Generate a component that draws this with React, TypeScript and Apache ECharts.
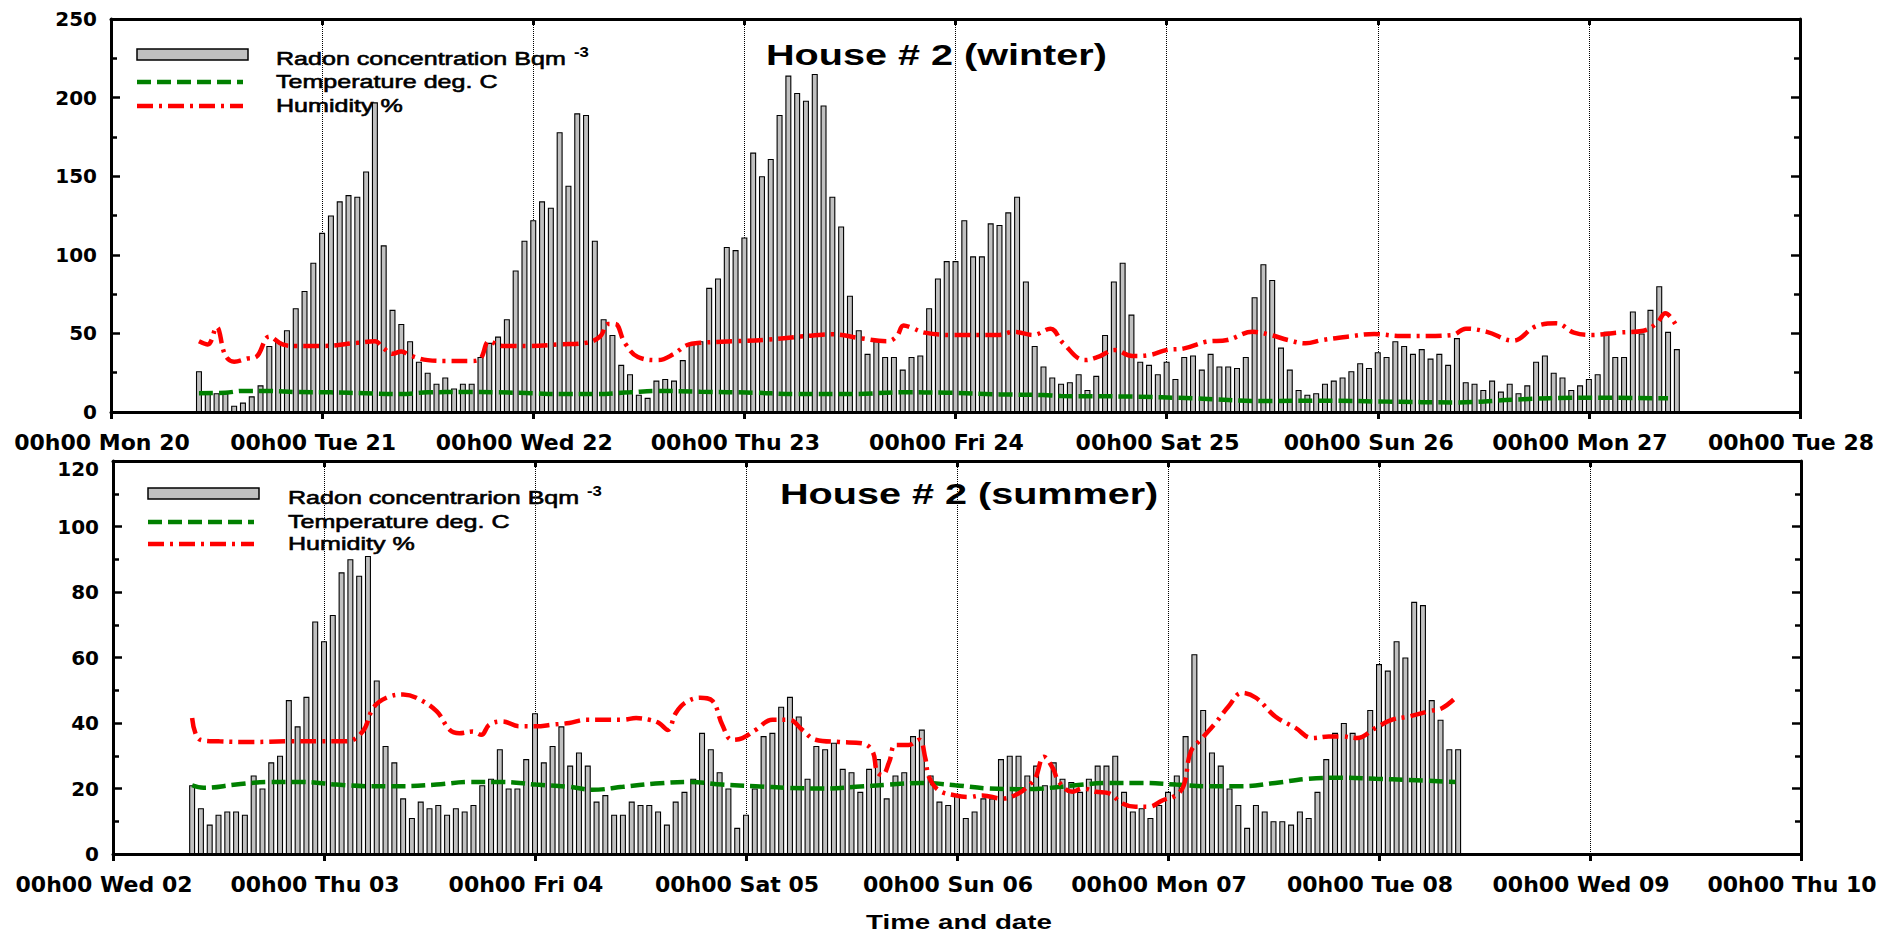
import React, { useEffect, useRef } from "react";
import * as echarts from "echarts";

// ---------- tick labels ----------
const topDayLabels = [
  "00h00 Mon 20", "00h00 Tue 21", "00h00 Wed 22", "00h00 Thu 23", "00h00 Fri 24",
  "00h00 Sat 25", "00h00 Sun 26", "00h00 Mon 27", "00h00 Tue 28",
];
const bottomDayLabels = [
  "00h00 Wed 02", "00h00 Thu 03", "00h00 Fri 04", "00h00 Sat 05", "00h00 Sun 06",
  "00h00 Mon 07", "00h00 Tue 08", "00h00 Wed 09", "00h00 Thu 10",
];

// ---------- winter (top) : hourly radon from Mon 20 10h00 ----------
const topRadonStartHour = 10;
const topRadon = [
  // Mon 20 (10h-23h)
  26, 12, 12, 12, 4, 6, 10, 17, 42, 45, 52, 66, 77, 95,
  // Tue 21
  114, 125, 134, 138, 137, 153, 197, 106, 65, 56, 45, 32, 25, 18, 22, 15, 18, 18, 35, 44, 48, 59, 90, 109,
  // Wed 22
  122, 134, 130, 178, 144, 190, 189, 109, 59, 49, 30, 24, 11, 9, 20, 21, 20, 33, 44, 45, 79, 85, 105, 103,
  // Thu 23
  111, 165, 150, 161, 189, 214, 203, 198, 215, 195, 137, 118, 74, 52, 37, 45, 35, 35, 27, 35, 36, 66, 85, 96,
  // Fri 24
  96, 122, 99, 99, 120, 119, 127, 137, 83, 42, 29, 22, 18, 19, 24, 14, 23, 49, 83, 95, 62, 32, 30, 24,
  // Sat 25
  32, 21, 35, 36, 27, 37, 29, 29, 28, 35, 73, 94, 84, 41, 27, 14, 11, 12, 18, 20, 22, 26, 31, 28,
  // Sun 26
  38, 35, 45, 42, 37, 40, 34, 37, 30, 47, 19, 18, 14, 20, 13, 18, 12, 17, 32, 36, 25, 22, 14, 17,
  // Mon 27 (0h-10h)
  21, 24, 51, 35, 35, 64, 50, 65, 80, 51, 40,
];
const topTempHours = [10, 13, 15, 18, 21, 25, 29, 33, 36, 40, 44, 48, 51, 55, 59, 62, 67, 73, 78, 84, 90, 95, 101, 106, 108, 116, 123, 131, 138, 145, 153, 160, 167, 177];
const topTempValues = [12, 12.3, 13.4, 13.4, 12.7, 12.5, 11.9, 11.4, 12.5, 12.7, 12.5, 11.9, 11.4, 11.4, 12.5, 13.4, 12.9, 12.3, 11.4, 11.4, 12.5, 12.3, 11.2, 10.8, 10.2, 9.8, 8.7, 7, 7.2, 6.6, 6.1, 8, 9.1, 8.7];
const topHumHours = [10, 11, 12, 13, 14, 15.5, 16.5, 18, 19.5, 21, 24, 28, 30, 31, 32, 33, 34, 36, 38, 41, 42, 43, 44.5, 47.5, 51, 54, 55.6, 56.5, 57.3, 58.4, 59.9, 62.2, 64, 65.5, 67, 70.8, 74.6, 78.4, 82.1, 85.1, 88.2, 89.3, 90.1, 91, 92.5, 95.5, 100.8, 102.7, 104.8, 106.8, 108.2, 110.7, 112.2, 114.1, 116.1, 118.1, 120, 122, 124.5, 126.9, 129.8, 131.8, 133.8, 135.8, 137.7, 140.7, 143.6, 146.6, 149.5, 152.5, 154, 156.4, 159.4, 161.9, 164.3, 166.3, 168.3, 171.3, 174.2, 175.7, 176.7, 177.9];
const topHumValues = [45, 43, 54, 36, 32, 34, 35, 48, 43, 42, 42, 44, 45, 40.5, 37, 38.5, 36, 33, 32.5, 32.5, 34, 45, 42, 42, 43, 44, 48, 56, 56, 44, 35, 33, 37, 42.6, 44, 45, 46, 48, 49.4, 47, 45, 48, 55, 53.6, 50.5, 49, 49, 51, 49, 53, 44, 33, 35, 39.4, 35.6, 36.3, 39.4, 40.5, 44.7, 45.8, 51, 49, 45.8, 43.7, 45.8, 48, 49.6, 48.3, 48.3, 49, 53, 51, 45.4, 54.3, 56.4, 50.5, 49, 50.5, 51.7, 56.4, 62.8, 55.3];

// ---------- summer (bottom) : hourly radon from Wed 02 09h00 ----------
const bottomRadonStartHour = 9;
const bottomRadon = [
  // Wed 02 (9h-23h)
  21, 14, 9, 12, 13, 13, 12, 24, 20, 28, 30, 47, 39, 48, 71,
  // Thu 03
  65, 73, 86, 90, 85, 91, 53, 33, 28, 17, 11, 16, 14, 15, 12, 14, 13, 15, 21, 23, 32, 20, 20, 29,
  // Fri 04
  43, 28, 33, 39, 27, 31, 27, 16, 18, 12, 12, 16, 15, 15, 13, 9, 16, 19, 23, 37, 32, 25, 20, 8,
  // Sat 05
  12, 20, 36, 37, 45, 48, 42, 23, 33, 32, 34, 26, 25, 19, 26, 29, 17, 24, 25, 36, 38, 24, 16, 15,
  // Sun 06
  18, 11, 13, 17, 17, 29, 30, 30, 24, 27, 21, 28, 23, 22, 19, 23, 27, 27, 30, 19, 13, 14, 11, 15,
  // Mon 07
  19, 24, 36, 61, 44, 31, 27, 20, 15, 8, 15, 13, 10, 10, 9, 13, 11, 19, 29, 37, 40, 37, 36, 44,
  // Tue 08 (0h-9h)
  58, 56, 65, 60, 77, 76, 47, 41, 32, 32,
];
const bottomTempHours = [9, 10.3, 14, 17.8, 21.6, 25.4, 29.2, 33, 36.8, 40.6, 44.3, 48.1, 51.9, 54.5, 58, 61.7, 65.5, 69.3, 73.1, 76.9, 80.7, 84.5, 88.3, 92, 95.8, 99.6, 103.4, 105.7, 109.5, 113.3, 117.1, 120.9, 124.7, 128.4, 132.2, 136, 139.8, 143.6, 147.4, 152.7];
const bottomTempValues = [21, 20.2, 21.2, 22, 22, 21.2, 20.7, 20.7, 21.2, 22, 22, 21.2, 20.5, 19.6, 20.5, 21.5, 22, 21.2, 20.7, 20.2, 20, 20.5, 21.2, 21.7, 21, 20, 19.8, 20, 21, 21.7, 21.7, 21.2, 20.7, 20.7, 21.7, 23, 23.3, 23, 22.6, 22];
const bottomHumHours = [9, 9.9, 12.1, 15.9, 19.7, 23.5, 26.5, 28.4, 29.6, 31.1, 33, 34.5, 36.8, 38.3, 39.4, 40.9, 41.9, 42.8, 44.3, 46.2, 48.1, 50, 51.9, 53.8, 56.1, 58, 59.5, 61, 62.1, 63.1, 64, 65.1, 66.8, 68.2, 69.3, 70.4, 71.6, 73.1, 75, 76.9, 78.4, 79.9, 82.6, 85.2, 86.4, 86.9, 87.5, 88.3, 89, 90.5, 91.7, 92.4, 92.8, 93.9, 95.8, 97.3, 98.9, 101.1, 103, 104.2, 104.9, 105.9, 106.9, 107.6, 109.1, 110.3, 111.8, 113.3, 114.8, 116.3, 117.8, 119.4, 120.9, 121.8, 122.6, 123.9, 125.4, 126.9, 128.4, 130, 132.2, 134.5, 136.4, 138.3, 139.8, 141.5, 143.6, 145.5, 147.4, 149.7, 151.2, 152.7];
const bottomHumValues = [41.5, 34.9, 34.4, 34.2, 34.4, 34.4, 34.4, 37.4, 44.6, 47.7, 48.7, 47.7, 43.6, 37.9, 36.9, 37.4, 36.4, 39.5, 40.5, 39, 39, 39.5, 40, 41, 41, 41, 41.5, 41, 40, 37.9, 43, 46.2, 47.7, 46.7, 39.5, 34.9, 35.4, 37.9, 41, 41, 37.9, 34.9, 34.2, 33.8, 31.3, 25.1, 24.1, 28.2, 33.3, 33.3, 34.9, 29.2, 23.6, 19.5, 17.9, 17.4, 17.9, 16.9, 18.5, 21, 23.1, 29.7, 26.2, 22, 19, 20, 19, 18.5, 15.4, 14.4, 14.4, 16.4, 17.9, 21, 31.3, 35.4, 40, 45.1, 49.2, 47.7, 42, 38.5, 35.4, 35.9, 35.9, 35.4, 38.5, 41, 42, 43.6, 44.6, 47.7];

// ---------- styles ----------
const AXIS_FONT = "DejaVu Sans";
const TEXT_FONT = "Liberation Sans";
const BAR_FILL = "#c0c0c0";
const GREEN = "#008000";
const RED = "#ff0000";
const TEMP_DASH = [14, 6];
const HUM_DASH = [16, 6, 3, 6];
const STRETCH = 1.32;

function xAxesFor(gridIndex: number, labels: string[]) {
  return [
    {
      type: "value", gridIndex, position: "bottom", min: 0, max: 192, interval: 24,
      axisLine: { show: true, onZero: false, lineStyle: { color: "#000", width: 3 } },
      axisTick: { show: true, inside: false, length: 7, lineStyle: { color: "#000", width: 3 } },
      axisLabel: {
        show: true,
        formatter: (v: number) => labels[Math.round(v / 24)] ?? "",
        fontFamily: AXIS_FONT, fontWeight: "bold", fontSize: 22, color: "#000",
        margin: 19, padding: [0, 18, 0, 0],
      },
      splitLine: { show: true, lineStyle: { color: "#000", width: 1, type: "dotted" } },
    },
    {
      type: "value", gridIndex, position: "top", min: 0, max: 192, interval: 24,
      axisLine: { show: true, onZero: false, lineStyle: { color: "#000", width: 3 } },
      axisTick: { show: true, inside: true, length: 6, lineStyle: { color: "#000", width: 3 } },
      axisLabel: { show: false },
      splitLine: { show: false },
    },
  ];
}

function yAxesFor(gridIndex: number, max: number, interval: number, shiftTop: boolean) {
  const tick = { show: true, inside: true, length: 9, lineStyle: { color: "#000", width: 2.5 } };
  const minor = { show: true, splitNumber: 2, length: 6, lineStyle: { color: "#000", width: 2.5 } };
  return [
    {
      type: "value", gridIndex, position: "left", min: 0, max, interval,
      axisLine: { show: true, onZero: false, lineStyle: { color: "#000", width: 3 } },
      axisTick: tick, minorTick: minor,
      axisLabel: {
        show: true, fontFamily: AXIS_FONT, fontWeight: "bold", fontSize: 20, color: "#000", margin: 14,
        formatter: (v: number) => (shiftTop && v === max ? `{t|${v}}` : `${v}`),
        rich: { t: { fontFamily: AXIS_FONT, fontWeight: "bold", fontSize: 20, color: "#000", padding: [16, 0, 0, 0] } },
      },
      splitLine: { show: false }, minorSplitLine: { show: false },
    },
    {
      type: "value", gridIndex, position: "right", min: 0, max, interval,
      axisLine: { show: true, onZero: false, lineStyle: { color: "#000", width: 3 } },
      axisTick: tick, minorTick: minor,
      axisLabel: { show: false },
      splitLine: { show: false }, minorSplitLine: { show: false },
    },
  ];
}

function seriesFor(axisIdx: number, start: number, radon: number[], tH: number[], tV: number[], hH: number[], hV: number[]) {
  return [
    {
      type: "bar", xAxisIndex: axisIdx, yAxisIndex: axisIdx,
      data: radon.map((v, i) => [start + i, v]),
      barWidth: 6,
      itemStyle: { color: BAR_FILL, borderColor: "#000", borderWidth: 1.1 },
      silent: true,
    },
    {
      type: "line", xAxisIndex: axisIdx, yAxisIndex: axisIdx,
      data: tH.map((h, i) => [h, tV[i]]),
      symbol: "none", smooth: 0.4,
      lineStyle: { color: GREEN, width: 4.5, type: TEMP_DASH, cap: "butt" },
      silent: true,
    },
    {
      type: "line", xAxisIndex: axisIdx, yAxisIndex: axisIdx,
      data: hH.map((h, i) => [h, hV[i]]),
      symbol: "none", smooth: 0.4,
      lineStyle: { color: RED, width: 4.5, type: HUM_DASH, cap: "butt" },
      silent: true,
    },
  ];
}

function txt(x: number, y: number, text: string, size: number, weight: string, align = "left", sx = STRETCH, outline = 0) {
  const style: any = {
    text, fill: "#000", fontFamily: TEXT_FONT, fontSize: size, fontWeight: weight,
    align, textAlign: align, verticalAlign: "middle", textVerticalAlign: "middle",
  };
  if (outline > 0) {
    style.stroke = "#000";
    style.lineWidth = outline;
  }
  return { type: "text", x, y, scaleX: sx, silent: true, style };
}

function legendFor(x0: number, rectY: number, tempY: number, humY: number, textX: number, radonText: string, supX: number, title: string, titleX: number, titleY: number) {
  return [
    { type: "rect", silent: true, shape: { x: x0, y: rectY, width: 111, height: 11 }, style: { fill: BAR_FILL, stroke: "#000", lineWidth: 1.5 } },
    { type: "line", silent: true, shape: { x1: x0, y1: tempY, x2: x0 + 106, y2: tempY }, style: { stroke: GREEN, lineWidth: 4.5, lineDash: TEMP_DASH } },
    { type: "line", silent: true, shape: { x1: x0, y1: humY, x2: x0 + 106, y2: humY }, style: { stroke: RED, lineWidth: 4.5, lineDash: HUM_DASH } },
    txt(textX, rectY + 10, radonText, 19, "normal", "left", STRETCH, 0.6),
    txt(supX, rectY + 3, "-3", 14, "bold", "left", 1.2),
    txt(textX, tempY, "Temperature deg. C", 19, "normal", "left", STRETCH, 0.6),
    txt(textX, humY, "Humidity %", 19, "normal", "left", STRETCH, 0.6),
    txt(titleX, titleY, title, 30, "bold"),
  ];
}

export default function App() {
  const ref = useRef<HTMLDivElement>(null);
  useEffect(() => {
    if (!ref.current) return;
    const chart = echarts.init(ref.current, null, { renderer: "svg" });
    const option: any = {
      animation: false,
      backgroundColor: "#ffffff",
      grid: [
        { left: 111, top: 19, width: 1689, height: 393 },
        { left: 113, top: 461, width: 1688, height: 393 },
      ],
      xAxis: [...xAxesFor(0, topDayLabels), ...xAxesFor(1, bottomDayLabels)],
      yAxis: [...yAxesFor(0, 250, 50, false), ...yAxesFor(1, 120, 20, true)],
      series: [
        ...seriesFor(0, topRadonStartHour, topRadon, topTempHours, topTempValues, topHumHours, topHumValues),
        ...seriesFor(2, bottomRadonStartHour, bottomRadon, bottomTempHours, bottomTempValues, bottomHumHours, bottomHumValues),
      ],
      graphic: [
        ...legendFor(137, 49, 82, 106, 276, "Radon concentration Bqm", 574, "House # 2 (winter)", 766, 54),
        ...legendFor(148, 488, 522, 544, 288, "Radon concentrarion Bqm", 587, "House # 2 (summer)", 780, 493),
        txt(959, 922, "Time and date", 21, "bold", "center"),
      ],
    };
    chart.setOption(option);
    return () => chart.dispose();
  }, []);
  return (
    <div
      ref={ref}
      style={{ position: "fixed", left: 0, top: 0, width: 1903, height: 934, background: "#fff" }}
    />
  );
}
